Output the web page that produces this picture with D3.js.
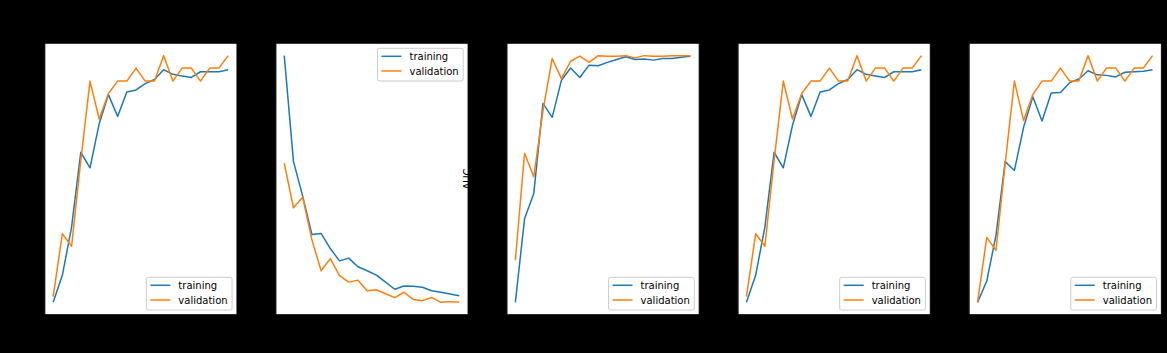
<!DOCTYPE html>
<html>
<head>
<meta charset="utf-8">
<script src="https://cdn.jsdelivr.net/npm/d3@7"></script>
<style>
  html, body { margin: 0; padding: 0; background: #000; }
  svg { display: block; font-family: "DejaVu Sans", sans-serif; }
</style>
</head>
<body>
<div id="chart"></div>
<script>
// training history, one panel per metric (20 epochs)
const epochs = d3.range(1, 21);
const metricNames = ["accuracy", "loss", "AUC", "precision", "recall"];
const seriesNames = ["training", "validation"];

const accTrain = [0.476, 0.528, 0.621, 0.765, 0.735, 0.820, 0.876, 0.834, 0.881, 0.885,
                  0.897, 0.905, 0.924, 0.915, 0.912, 0.909, 0.920, 0.920, 0.920, 0.924];
const accVal   = [0.487, 0.608, 0.584, 0.749, 0.902, 0.829, 0.878, 0.902, 0.902, 0.927,
                  0.902, 0.902, 0.951, 0.902, 0.927, 0.927, 0.902, 0.927, 0.927, 0.951];

const lossTrain = [1.200, 0.772, 0.631, 0.476, 0.480, 0.419, 0.369, 0.380, 0.345, 0.329,
                   0.311, 0.283, 0.254, 0.267, 0.266, 0.262, 0.248, 0.242, 0.235, 0.228];
const lossVal   = [0.765, 0.584, 0.627, 0.455, 0.329, 0.378, 0.309, 0.283, 0.291, 0.248,
                   0.252, 0.236, 0.220, 0.242, 0.213, 0.208, 0.221, 0.201, 0.204, 0.201];

const aucTrain = [0.551, 0.700, 0.745, 0.906, 0.881, 0.947, 0.969, 0.952, 0.974, 0.973,
                  0.979, 0.984, 0.989, 0.984, 0.985, 0.983, 0.986, 0.986, 0.988, 0.990];
const aucVal   = [0.626, 0.817, 0.775, 0.893, 0.986, 0.950, 0.981, 0.990, 0.979, 0.991,
                  0.990, 0.990, 0.991, 0.987, 0.991, 0.990, 0.990, 0.991, 0.991, 0.991];

const precTrain = [0.476, 0.528, 0.621, 0.765, 0.735, 0.817, 0.876, 0.834, 0.881, 0.885,
                   0.897, 0.905, 0.924, 0.915, 0.912, 0.909, 0.920, 0.920, 0.920, 0.924];
const precVal   = [0.487, 0.608, 0.584, 0.749, 0.902, 0.829, 0.878, 0.902, 0.902, 0.927,
                   0.902, 0.902, 0.951, 0.902, 0.927, 0.927, 0.902, 0.927, 0.927, 0.951];

const recTrain = [0.476, 0.517, 0.605, 0.747, 0.730, 0.813, 0.872, 0.825, 0.879, 0.880,
                  0.899, 0.906, 0.922, 0.914, 0.913, 0.910, 0.919, 0.920, 0.921, 0.924];
const recVal   = [0.476, 0.601, 0.576, 0.743, 0.902, 0.826, 0.876, 0.902, 0.902, 0.927,
                  0.902, 0.902, 0.951, 0.902, 0.927, 0.927, 0.902, 0.927, 0.927, 0.951];

const panels = [
  { name: metricNames[0], series: [accTrain, accVal], legend: "lower right", ticks: 6 },
  { name: metricNames[1], series: [lossTrain, lossVal], legend: "upper right", ticks: 6 },
  { name: metricNames[2], series: [aucTrain, aucVal], legend: "lower right", ticks: 9 },
  { name: metricNames[3], series: [precTrain, precVal], legend: "lower right", ticks: 6 },
  { name: metricNames[4], series: [recTrain, recVal], legend: "lower right", ticks: 6 }
];

const colors = ["#1f77b4", "#ff7f0e"];
const width = 1167, height = 353;
const axTop = 43.3, axBottom = 314.7, axW = 192.5, axLeft0 = 44.4, axStep = 231.1;

const svg = d3.select("#chart").append("svg")
  .attr("width", width)
  .attr("height", height);

// matplotlib style 5% margins
function padded(ext) {
  const r = ext[1] - ext[0];
  return [ext[0] - 0.05 * r, ext[1] + 0.05 * r];
}

panels.forEach((p, i) => {
  const left = axLeft0 + i * axStep;
  const g = svg.append("g");

  const x = d3.scaleLinear()
    .domain(padded(d3.extent(epochs)))
    .range([left, left + axW]);
  const y = d3.scaleLinear()
    .domain(padded(d3.extent(p.series.flat())))
    .range([axBottom, axTop]);

  // axes background
  g.append("rect")
    .attr("x", left).attr("y", axTop)
    .attr("width", axW).attr("height", axBottom - axTop)
    .attr("fill", "#fff");

  // axes (black, like the original figure)
  const yAxis = g.append("g")
    .attr("transform", `translate(${left},0)`)
    .call(d3.axisLeft(y).ticks(p.ticks).tickSize(3.5).tickPadding(3.5));
  const xAxis = g.append("g")
    .attr("transform", `translate(0,${axBottom})`)
    .call(d3.axisBottom(x).ticks(5).tickSize(3.5).tickPadding(3.5));
  [yAxis, xAxis].forEach(a => {
    a.selectAll("path, line").attr("stroke", "#000").attr("stroke-width", 0.8);
    a.selectAll("text").attr("fill", "#000").attr("font-size", 10)
      .attr("font-family", "DejaVu Sans");
  });

  // y label sits left of the widest tick label
  let minX = left;
  yAxis.selectAll("text").each(function () {
    const b = this.getBBox();
    minX = Math.min(minX, left + b.x);
  });
  g.append("text")
    .attr("transform", `translate(${minX - 4 - 2.3},${(axTop + axBottom) / 2}) rotate(-90)`)
    .attr("text-anchor", "middle")
    .attr("font-size", 10)
    .attr("fill", "#000")
    .text(p.name);

  g.append("text")
    .attr("x", left + axW / 2)
    .attr("y", axBottom + 30)
    .attr("text-anchor", "middle")
    .attr("font-size", 10)
    .attr("fill", "#000")
    .text("epoch");

  // lines
  const line = d3.line()
    .x((d, j) => x(epochs[j]))
    .y(d => y(d));
  p.series.forEach((s, k) => {
    g.append("path")
      .datum(s)
      .attr("fill", "none")
      .attr("stroke", colors[k])
      .attr("stroke-width", 1.5)
      .attr("stroke-linejoin", "round")
      .attr("d", line);
  });

  // frame
  g.append("rect")
    .attr("x", left).attr("y", axTop)
    .attr("width", axW).attr("height", axBottom - axTop)
    .attr("fill", "none")
    .attr("stroke", "#000")
    .attr("stroke-width", 0.8);

  // legend
  const leg = g.append("g");
  const box = leg.append("rect")
    .attr("rx", 2).attr("ry", 2)
    .attr("fill", "#fff").attr("fill-opacity", 0.8)
    .attr("stroke", "#cccccc").attr("stroke-width", 1);
  let textW = 0;
  seriesNames.forEach((n, k) => {
    const cy = 8 + k * 14.7;
    leg.append("line")
      .attr("x1", 4).attr("x2", 24)
      .attr("y1", cy).attr("y2", cy)
      .attr("stroke", colors[k]).attr("stroke-width", 1.5);
    const t = leg.append("text")
      .attr("x", 32).attr("y", cy + 3.6)
      .attr("font-size", 10)
      .attr("fill", "#000")
      .text(n);
    textW = Math.max(textW, t.node().getComputedTextLength());
  });
  const boxW = 32 + textW + 4.5, boxH = 32.7;
  box.attr("width", boxW).attr("height", boxH);
  const lx = left + axW - 4.8 - boxW;
  const ly = p.legend === "upper right" ? axTop + 5 : axBottom - 4.7 - boxH;
  leg.attr("transform", `translate(${lx},${ly})`);
});
</script>
</body>
</html>
